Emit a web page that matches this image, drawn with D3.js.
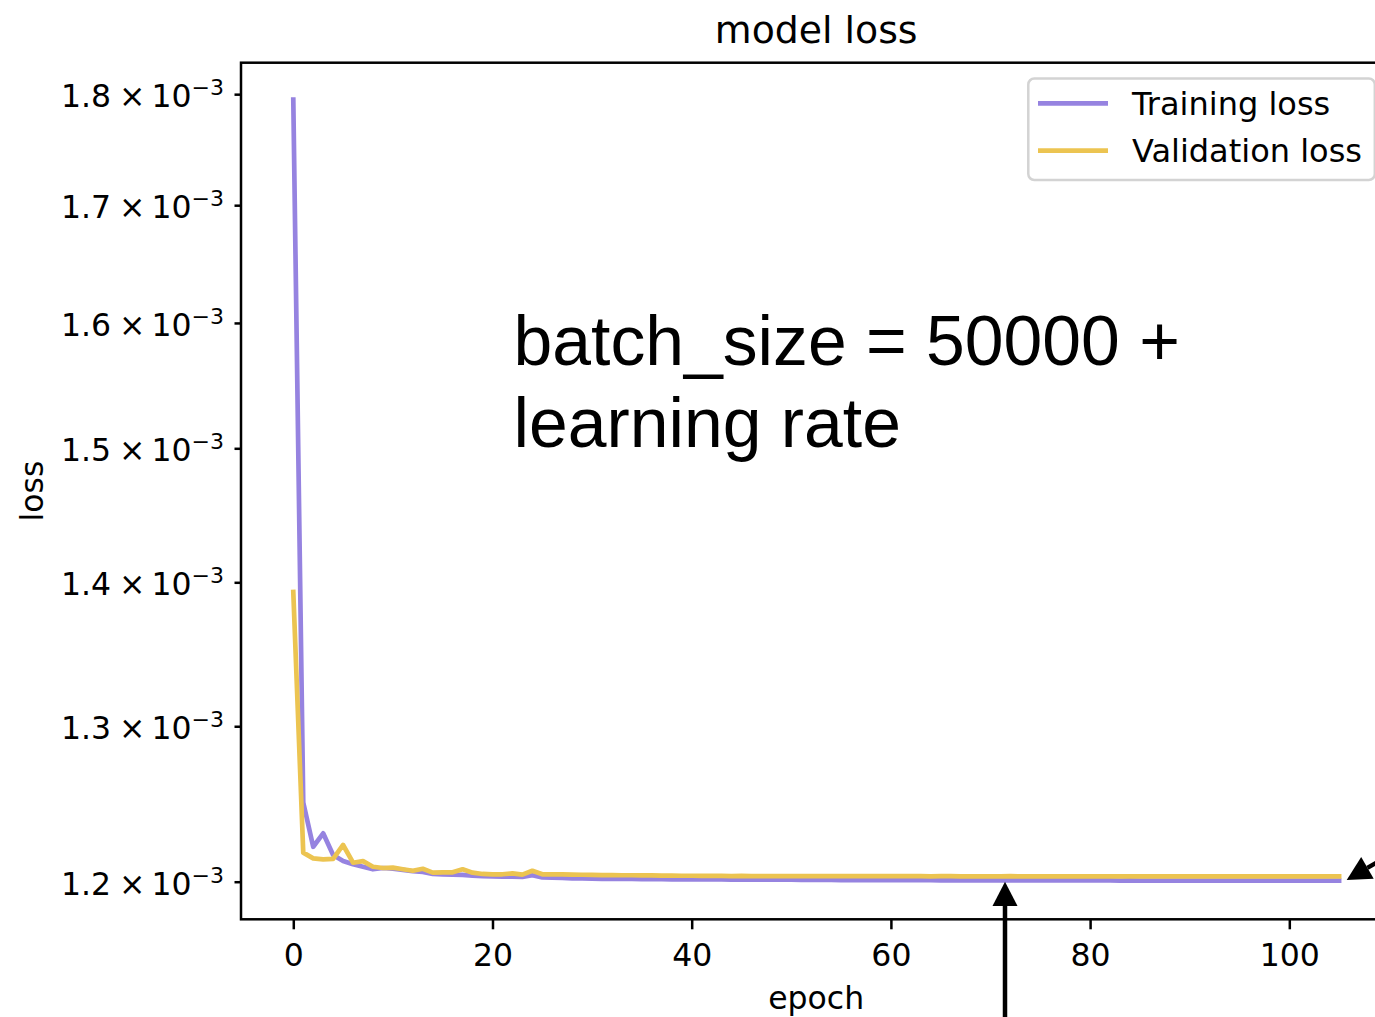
<!DOCTYPE html>
<html>
<head>
<meta charset="utf-8">
<script src="https://cdn.jsdelivr.net/npm/d3@7"></script>
<style>
  body { margin: 0; background: #fff; }
  svg { display: block; }
</style>
</head>
<body>
<svg id="chart" width="1375" height="1017"></svg>
<script>
// Loss per epoch, in units of 10^-3
const epochs = d3.range(106);
const trainLoss = [
  1.795, 1.250, 1.2218, 1.2303, 1.2166, 1.2129, 1.2108, 1.2093, 1.2077, 1.2085,
  1.2081, 1.2073, 1.2065, 1.2060, 1.2048, 1.2046, 1.2043, 1.2042, 1.2037, 1.2035,
  1.2033, 1.2031, 1.2031, 1.2030, 1.2040, 1.2027, 1.2025, 1.2023, 1.2021, 1.2020,
  1.2019, 1.2018, 1.2018, 1.2017, 1.2017, 1.2016, 1.2016, 1.2016, 1.2015, 1.2015,
  1.2015, 1.2014, 1.2014, 1.2014, 1.2013, 1.2013, 1.2013, 1.2012, 1.2012, 1.2012,
  1.2012, 1.2011, 1.2011, 1.2011, 1.2011, 1.2010, 1.2010, 1.2010, 1.2010, 1.2010,
  1.2009, 1.2009, 1.2009, 1.2009, 1.2009, 1.2008, 1.2009, 1.2008, 1.2008, 1.2008,
  1.2008, 1.2008, 1.2008, 1.2008, 1.2008, 1.2008, 1.2008, 1.2008, 1.2008, 1.2008,
  1.2008, 1.2008, 1.2008, 1.2007, 1.2008, 1.2007, 1.2007, 1.2007, 1.2007, 1.2007,
  1.2007, 1.2007, 1.2007, 1.2007, 1.2007, 1.2007, 1.2007, 1.2007, 1.2007, 1.2007,
  1.2007, 1.2007, 1.2007, 1.2007, 1.2007, 1.2007
];
const valLoss = [
  1.393, 1.2181, 1.2145, 1.2139, 1.2142, 1.2229, 1.2118, 1.2128, 1.2093, 1.2085,
  1.2087, 1.2077, 1.2068, 1.2080, 1.2056, 1.2058, 1.2058, 1.2077, 1.2056, 1.2048,
  1.2046, 1.2046, 1.2052, 1.2044, 1.2068, 1.2046, 1.2045, 1.2046, 1.2044, 1.2043,
  1.2042, 1.2041, 1.2041, 1.2040, 1.2040, 1.2039, 1.2039, 1.2038, 1.2038, 1.2037,
  1.2037, 1.2036, 1.2036, 1.2036, 1.2035, 1.2036, 1.2035, 1.2035, 1.2035, 1.2035,
  1.2034, 1.2034, 1.2035, 1.2034, 1.2034, 1.2034, 1.2034, 1.2034, 1.2035, 1.2034,
  1.2034, 1.2034, 1.2034, 1.2034, 1.2033, 1.2034, 1.2034, 1.2033, 1.2033, 1.2033,
  1.2033, 1.2033, 1.2034, 1.2033, 1.2033, 1.2033, 1.2033, 1.2033, 1.2033, 1.2033,
  1.2033, 1.2033, 1.2033, 1.2033, 1.2033, 1.2033, 1.2033, 1.2033, 1.2033, 1.2033,
  1.2033, 1.2033, 1.2033, 1.2033, 1.2033, 1.2033, 1.2033, 1.2033, 1.2033, 1.2033,
  1.2033, 1.2033, 1.2033, 1.2033, 1.2033, 1.2033
];
const seriesNames = ["Training loss", "Validation loss"];
const seriesColors = ["#9683e0", "#ecc451"];
const xTicks = [0, 20, 40, 60, 80, 100];
const yTicks = [1.2, 1.3, 1.4, 1.5, 1.6, 1.7, 1.8];
const yTickLabels = ["1.2", "1.3", "1.4", "1.5", "1.6", "1.7", "1.8"];
const yExponent = "−3";
const titleText = "model loss";
const xLabel = "epoch";
const yLabel = "loss";
const noteLines = ["batch_size = 50000 +", "learning rate"];

const FONT = "'DejaVu Sans', sans-serif";
const svg = d3.select("#chart");
svg.append("rect").attr("width", 1375).attr("height", 1017).attr("fill", "#fff");

// Plot area
const P = { left: 241, right: 1391.4, top: 62.7, bottom: 919.3 };
const x = d3.scaleLinear().domain([-5.25, 110.25]).range([P.left, P.right]);
const y = d3.scaleLog().domain([1.1770, 1.8294]).range([P.bottom, P.top]);

// Loss curves
const series = [trainLoss, valLoss];
const line = d3.line().x((d, i) => x(epochs[i])).y(d => y(d));
series.forEach((s, k) => {
  svg.append("path")
    .datum(s)
    .attr("d", line)
    .attr("fill", "none")
    .attr("stroke", seriesColors[k])
    .attr("stroke-width", 4.7)
    .attr("stroke-linejoin", "round")
    .attr("stroke-linecap", "square");
});

// Spines
svg.append("rect")
  .attr("x", P.left).attr("y", P.top)
  .attr("width", P.right - P.left).attr("height", P.bottom - P.top)
  .attr("fill", "none").attr("stroke", "#000").attr("stroke-width", 2.5);

// X axis
const xAxis = svg.append("g")
  .attr("transform", `translate(0,${P.bottom})`)
  .call(d3.axisBottom(x).tickValues(xTicks).tickSize(10).tickSizeOuter(0).tickPadding(14.3));
xAxis.select(".domain").remove();
xAxis.selectAll(".tick line").attr("stroke", "#000").attr("stroke-width", 2.5);
xAxis.selectAll(".tick text")
  .attr("fill", "#000").attr("font-family", FONT).attr("font-size", 31.5);

// Y axis (log scale)
const yAxis = svg.append("g")
  .attr("transform", `translate(${P.left},0)`)
  .call(d3.axisLeft(y).tickValues(yTicks).tickSize(6.5).tickSizeOuter(0).tickFormat(""));
yAxis.select(".domain").remove();
yAxis.selectAll(".tick line").attr("stroke", "#000").attr("stroke-width", 2.5);
yAxis.selectAll(".tick text").remove();
yAxis.selectAll(".tick").each(function(d, i) {
  const t = d3.select(this).append("text")
    .attr("x", -17).attr("y", 12.3)
    .attr("text-anchor", "end")
    .attr("fill", "#000")
    .attr("font-family", FONT)
    .attr("font-size", 31.5);
  t.append("tspan").text(yTickLabels[i]);
  t.append("tspan").attr("dx", 8).text("×");
  t.append("tspan").attr("dx", 6).text("10");
  t.append("tspan").attr("dy", -11.7).attr("font-size", 22).text(yExponent);
});

// Title and axis labels
const cx = (P.left + P.right) / 2;
svg.append("text").attr("x", cx).attr("y", 43).attr("text-anchor", "middle")
  .attr("font-family", FONT).attr("font-size", 37.8).attr("fill", "#000").text(titleText);
svg.append("text").attr("x", cx).attr("y", 1009).attr("text-anchor", "middle")
  .attr("font-family", FONT).attr("font-size", 31.5).attr("fill", "#000").text(xLabel);
svg.append("text")
  .attr("transform", `translate(43,${(P.top + P.bottom) / 2}) rotate(-90)`)
  .attr("text-anchor", "middle")
  .attr("font-family", FONT).attr("font-size", 31.5).attr("fill", "#000").text(yLabel);

// Legend
const lg = svg.append("g");
lg.append("rect")
  .attr("x", 1028.3).attr("y", 78.5).attr("width", 346.5).attr("height", 101.5)
  .attr("rx", 6).attr("ry", 6)
  .attr("fill", "#fff").attr("fill-opacity", 0.8)
  .attr("stroke", "#d3d3d3").attr("stroke-width", 2.5);
seriesNames.forEach((name, k) => {
  const ly = 103.3 + k * 47.4;
  lg.append("line").attr("x1", 1038).attr("x2", 1108).attr("y1", ly).attr("y2", ly)
    .attr("stroke", seriesColors[k]).attr("stroke-width", 4.7);
  lg.append("text").attr("x", 1132).attr("y", ly + 11.7)
    .attr("font-family", FONT).attr("font-size", 32).attr("fill", "#000").text(name);
});

// Annotation text
const note = svg.append("text")
  .attr("font-family", "'Liberation Sans', Arial, Helvetica, sans-serif")
  .attr("font-size", 69.7).attr("fill", "#000");
noteLines.forEach((s, i) => {
  note.append("tspan").attr("x", 513.5).attr("y", 365 + i * 81.5).text(s);
});

// Annotation arrows
const arrows = svg.append("g").attr("fill", "#000").attr("stroke", "#000");
arrows.append("line").attr("x1", 1005).attr("x2", 1005).attr("y1", 1030).attr("y2", 903)
  .attr("stroke-width", 4.5);
arrows.append("path").attr("stroke", "none")
  .attr("d", "M1005,881.7 L992.5,906 L1017.5,906 Z");
arrows.append("line").attr("x1", 1367.4).attr("y1", 867.9).attr("x2", 1420).attr("y2", 837.5)
  .attr("stroke-width", 4.5);
arrows.append("path").attr("stroke", "none")
  .attr("d", "M1346.7,880 L1373.7,878.7 L1361.2,857.1 Z");
</script>
</body>
</html>
